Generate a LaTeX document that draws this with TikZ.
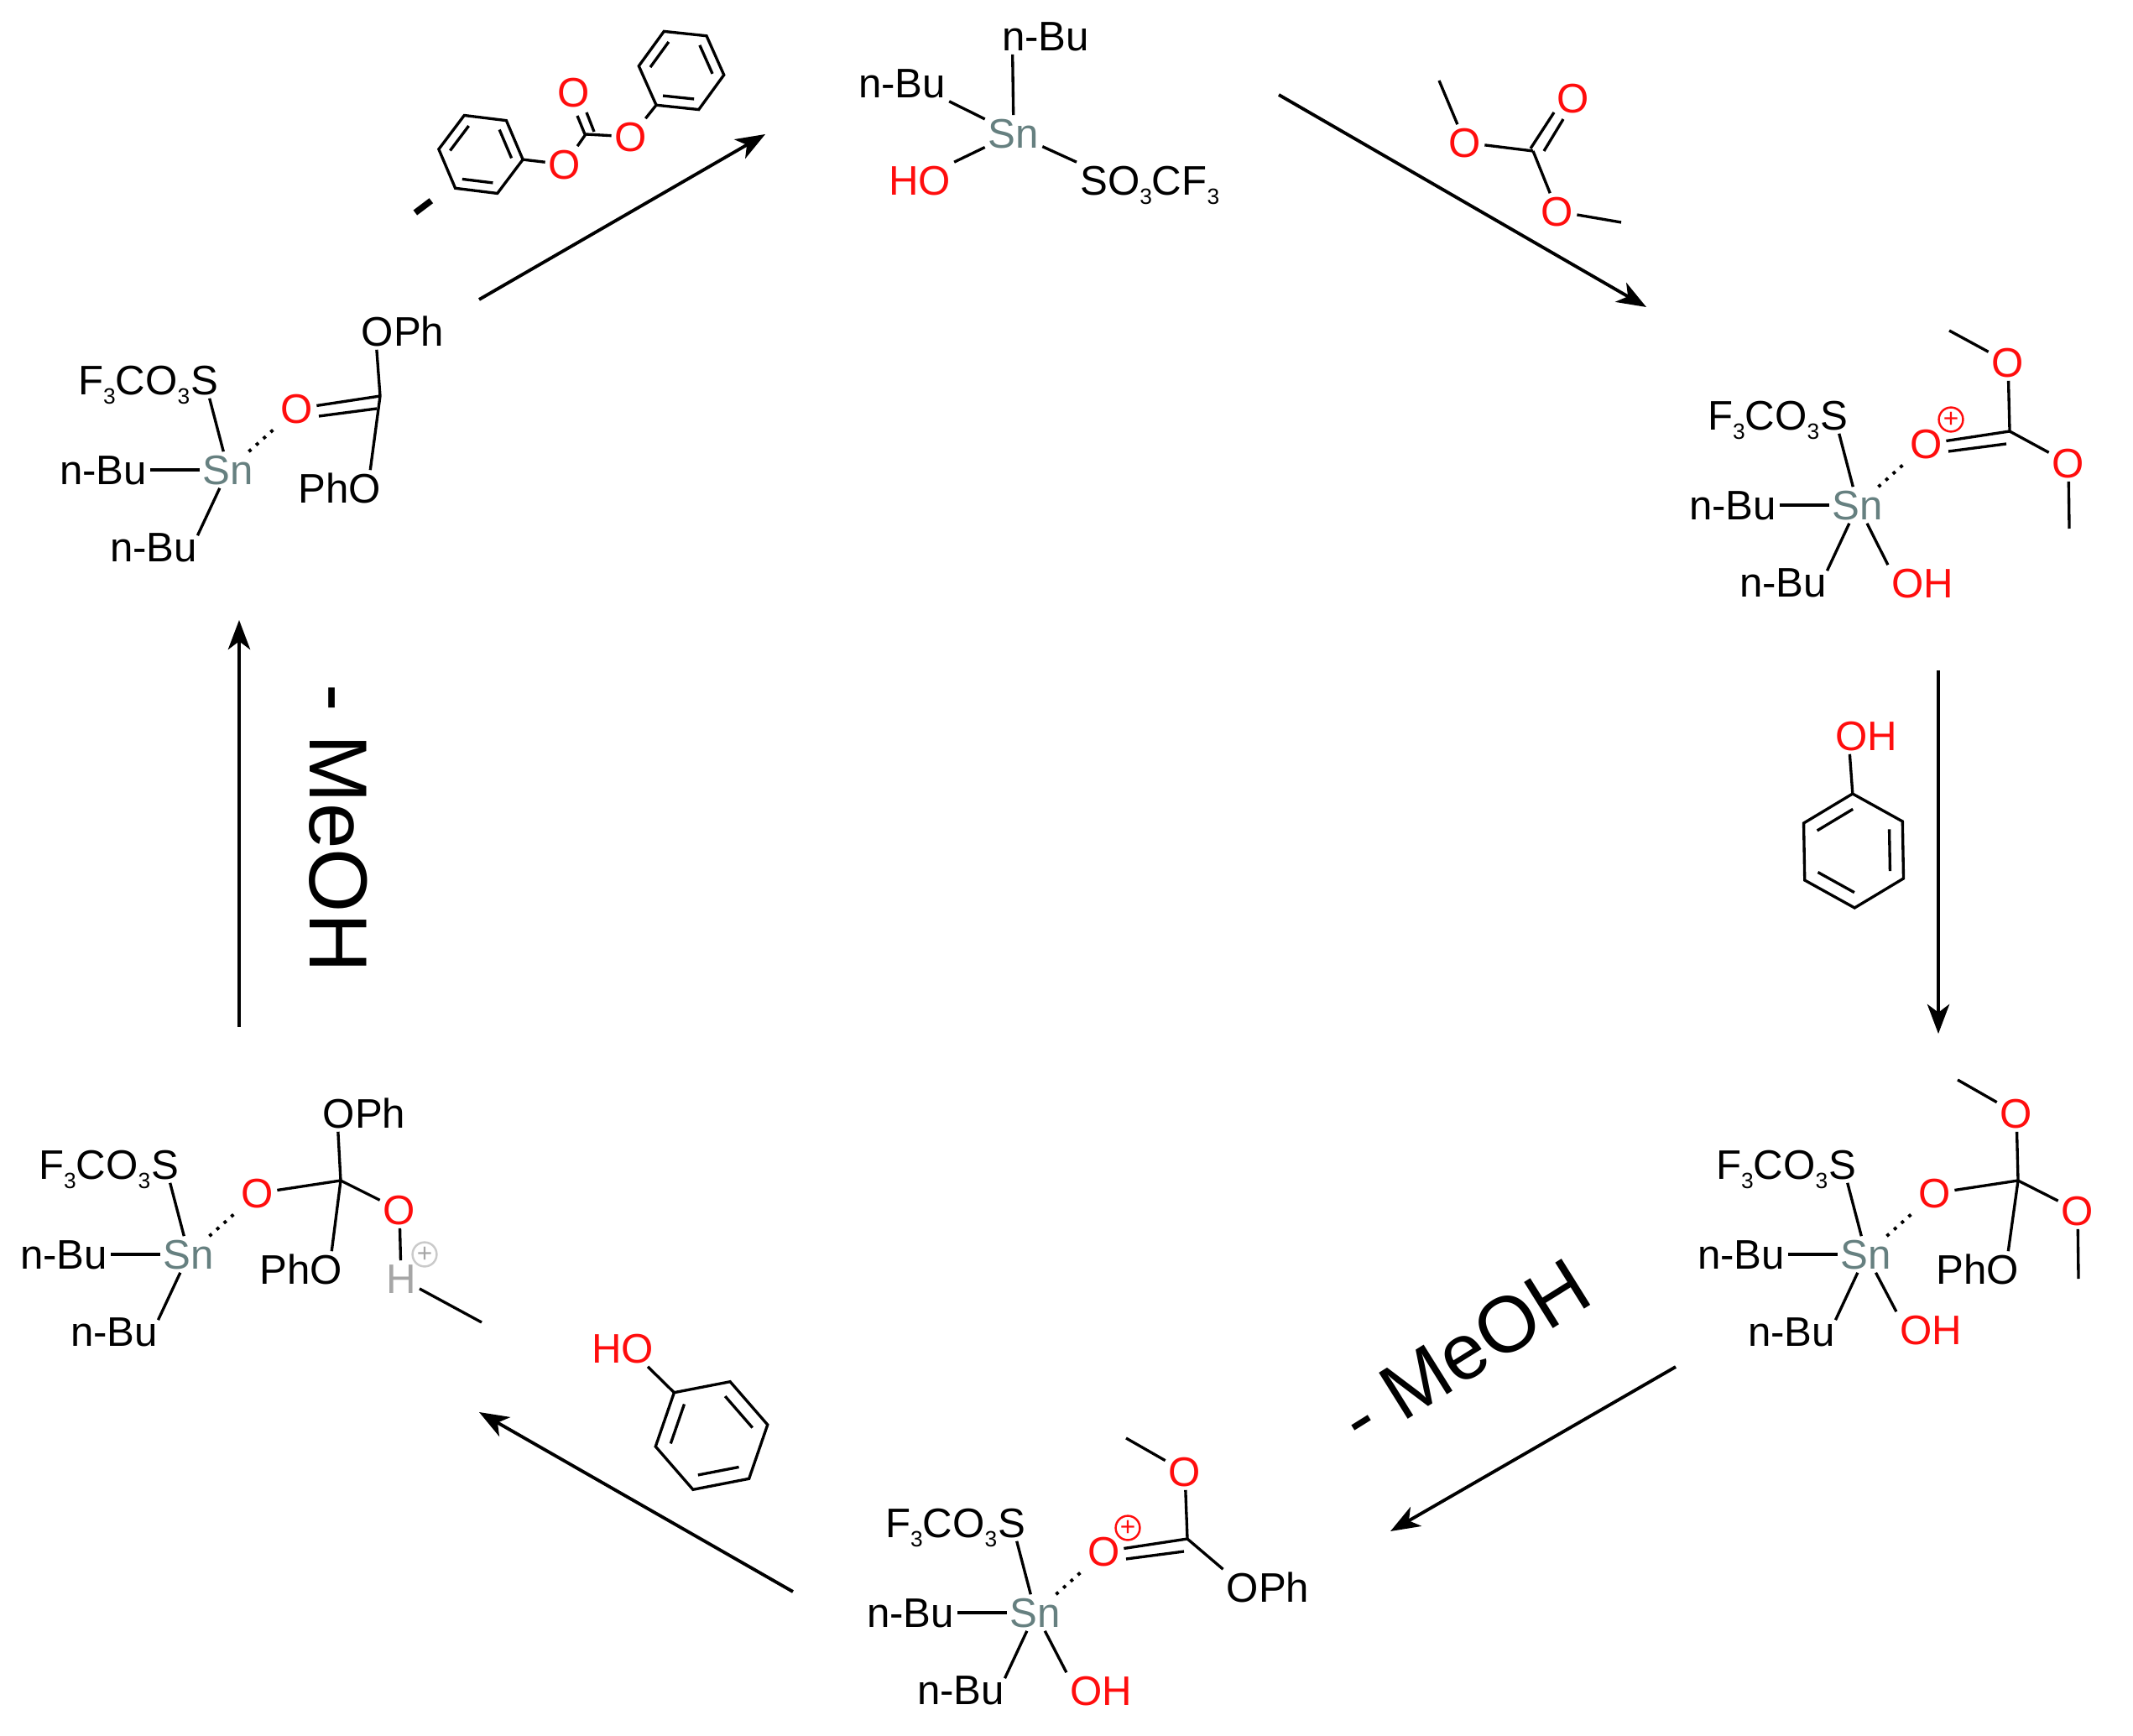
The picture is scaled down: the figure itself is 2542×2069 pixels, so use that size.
\documentclass[tikz,border=0pt]{standalone}
\usepackage{fontspec}
\setmainfont{Liberation Sans}
\usepackage{tikz}
\usetikzlibrary{arrows.meta,positioning}

\definecolor{oxyred}{HTML}{FF0D0D}
\definecolor{tingray}{HTML}{668080}
\definecolor{hgray}{HTML}{A6A6A6}

\newcommand{\atomfont}{\fontsize{14}{16}\selectfont}
\newcommand{\lossfont}{\fontsize{27.9}{30}\selectfont}
\newcommand{\sbthree}{\raisebox{-3.2pt}{\fontsize{7.5}{8}\selectfont 3}}

% tin centre with triflate, two butyls and the weak bond
\newcommand{\snarms}{%
  \node[tin] (sn) at (0,0) {Sn};
  \node[atom] (s) at (-28,-107) {S};
  \node[atom,left=-2pt of s] (tf) {F\sbthree CO\sbthree};
  \node[atom] (nbm) at (-149,0) {n-Bu};
  \node[atom] (nbl) at (-89,92) {n-Bu};
  \node[oxy] (os) at (82,-73) {O};
  \coordinate (c) at (181,-88);
  \path[bond] (sn) edge (s) edge (nbm) edge[shorten >=-2.5pt] (nbl.north east);
  \draw[weak] (sn) -- (os);
}
\newcommand{\carbonyl}{%
  \path[bond] (c) edge (os);
  \draw[bond] ([shift={(26,9)}]os.center) -- ([shift={(-4,15)}]c);
}
% name, centre, radius, first angle
\newcommand{\benzring}[4]{%
  \begin{scope}[shift={#2},y=0.1mm]
    \coordinate (#1a) at (#4:#3);
    \coordinate (#1b) at ({#4+60}:#3);
    \coordinate (#1c) at ({#4+120}:#3);
    \coordinate (#1d) at ({#4+180}:#3);
    \coordinate (#1e) at ({#4+240}:#3);
    \coordinate (#1f) at ({#4+300}:#3);
    \draw[bond] (#1a) -- (#1b) -- (#1c) -- (#1d) -- (#1e) -- (#1f) -- cycle;
    \draw[bond] (#4:{.73*#3}) -- ({#4+60}:{.73*#3});
    \draw[bond] ({#4+120}:{.73*#3}) -- ({#4+180}:{.73*#3});
    \draw[bond] ({#4+240}:{.73*#3}) -- ({#4+300}:{.73*#3});
  \end{scope}
}

\begin{document}
\begin{tikzpicture}[x=0.1mm,y=-0.1mm]
  \tikzstyle{atom}=[inner sep=1pt,text height=10pt,text depth=0pt,font=\atomfont]
  \tikzstyle{oxy}=[atom,text=oxyred]
  \tikzstyle{tin}=[atom,text=tingray]
  \tikzstyle{bond}=[line width=.95pt]
  \tikzstyle{weak}=[line width=1.1pt,dash pattern=on 1.1pt off 2.2pt]
  \tikzstyle{charge}=[circle,draw=oxyred,text=oxyred,line width=.7pt,inner sep=0pt,minimum size=8.2pt,font=\fontsize{9}{9}\selectfont]
  \tikzstyle{rxn}=[line width=1.1pt,-{Stealth[length=10pt,width=7.5pt,inset=2.8pt]}]
  \tikzstyle{loss}=[inner sep=0pt,anchor=base west,font=\lossfont]

  \useasboundingbox (0,0) rectangle (2542,2069);

  % top
  \begin{scope}[shift={(1208,159)},name prefix=ra-]
    \node[tin] (sn) at (0,0) {Sn};
    \node[atom] (nbt) at (38,-116) {n-Bu};
    \node[atom] (nbs) at (-133,-60) {n-Bu};
    \node[oxy] (ho) at (-112,56) {HO};
    \node[atom,anchor=west] (so) at (75,56) {SO\sbthree CF\sbthree};
    \path[bond] (sn) edge (nbt.209) edge (nbs.south east) edge (ho.north east) edge (so.north west);
  \end{scope}

  % right, upper
  \begin{scope}[shift={(2214,602)},name prefix=rb-]
    \snarms
    \carbonyl
    \node[oxy] (oh) at (77,93) {OH};
    \node[charge] (q) at (111,-102) {+};
    \node[oxy] (ot) at (179,-170) {O};
    \node[oxy] (or) at (251,-50) {O};
    \coordinate (mt) at (109,-208);
    \coordinate (mr) at (252,28);
    \path[bond] (sn) edge (oh.north west)
      (c) edge (ot) edge (or)
      (ot) edge (mt)
      (or) edge (mr);
  \end{scope}

  % right, lower
  \begin{scope}[shift={(2224,1495)},name prefix=rc-]
    \snarms
    \node[oxy] (oh) at (77,90) {OH};
    \node[oxy] (ot) at (179,-168) {O};
    \node[oxy] (or) at (252,-52) {O};
    \node[atom] (pho) at (133,18) {PhO};
    \coordinate (mt) at (109,-208);
    \coordinate (mr) at (253,29);
    \path[bond] (sn) edge (oh.north west)
      (c) edge (os) edge (ot) edge (or) edge (pho.31)
      (ot) edge (mt)
      (or) edge (mr);
  \end{scope}

  % bottom
  \begin{scope}[shift={(1234,1922)},name prefix=rd-]
    \snarms
    \carbonyl
    \node[oxy] (oh) at (78,93) {OH};
    \node[charge] (q) at (110,-101) {+};
    \node[oxy] (ot) at (178,-168) {O};
    \node[atom] (oph) at (277,-30) {OPh};
    \coordinate (mt) at (108,-208);
    \path[bond] (sn) edge (oh.north west)
      (c) edge (ot) edge (oph.north west)
      (ot) edge (mt);
  \end{scope}

  % left, lower
  \begin{scope}[shift={(225,1495)},name prefix=re-]
    \snarms
    \node[atom] (oph) at (209,-168) {OPh};
    \node[atom] (pho) at (134,18) {PhO};
    \node[oxy] (or) at (251,-53) {O};
    \node[atom,text=hgray] (h) at (253,29) {H};
    \node[charge,draw=hgray!60,text=hgray] (q) at (281,0) {+};
    \coordinate (mh) at (349,81);
    \path[bond] (c) edge (os) edge (oph.215) edge (pho.31) edge (or)
      (or) edge (h)
      (h) edge (mh);
  \end{scope}

  % left, upper
  \begin{scope}[shift={(272,560)},name prefix=rf-]
    \snarms
    \carbonyl
    \node[atom] (oph) at (208,-165) {OPh};
    \node[atom] (pho) at (133,22) {PhO};
    \path[bond] (c) edge (oph.215) edge (pho.31);
  \end{scope}

  % dimethyl carbonate
  \node[oxy] (dmoa) at (1746,170) {O};
  \node[oxy] (dmob) at (1875,117) {O};
  \node[oxy] (dmoc) at (1856,252) {O};
  \coordinate (dmc) at (1827,180);
  \coordinate (dmma) at (1715,96);
  \coordinate (dmmb) at (1932,265);
  \path[bond] (dmc) edge (dmoa) edge (dmoc)
    (dmoa) edge (dmma)
    (dmoc) edge (dmmb);
  \draw[bond] ([shift={(-3,-3)}]dmc) -- ([shift={(-23,17)}]dmob.center);
  \draw[bond] ([shift={(13,0)}]dmc) -- ([shift={(-12,25)}]dmob.center);

  % phenol, right
  \benzring{pa}{(2209,1014)}{68}{91}
  \node[oxy] (pao) at (2224,877) {OH};
  \draw[bond] (paa) -- (pao.228);

  % phenol, left
  \benzring{pb}{(848,1711)}{68}{11}
  \node[oxy] (pbo) at (742,1607) {HO};
  \draw[bond] (pbc) -- (pbo.-36);

  % diphenyl carbonate
  \benzring{dpa}{(573,184)}{50.5}{113}
  \benzring{dpb}{(812,84)}{51}{114}
  \node[oxy] (dpl) at (673,196) {O};
  \node[oxy] (dpr) at (752,163) {O};
  \node[oxy] (dpt) at (684,110) {O};
  \coordinate (dpc) at (698,160);
  \path[bond] (dpc) edge (dpl) edge (dpr)
    (dpl) edge (dpae)
    (dpr) edge (dpbc);
  \draw[bond] ([shift={(-1,0)}]dpc) -- ([shift={(4,28)}]dpt.center);
  \draw[bond] ([shift={(10,-3)}]dpc) -- ([shift={(15,24)}]dpt.center);

  % losses
  \node[inner sep=0pt,rotate=37,font=\lossfont] (lossa) at (512,256) {-};
  \node[loss,rotate=32,font=\fontsize{26.8}{30}\selectfont] (lossb) at (1622,1726) {- MeOH};
  \node[loss,rotate=-90] (lossc) at (369,815) {- MeOH};

  % cycle arrows
  \coordinate (a1) at (571,357);
  \coordinate (a2) at (912,160);
  \coordinate (b1) at (1524,113);
  \coordinate (b2) at (1962,366);
  \coordinate (c1) at (2310,799);
  \coordinate (c2) at (2310,1232);
  \coordinate (d1) at (1997,1629);
  \coordinate (d2) at (1657,1825);
  \coordinate (e1) at (945,1897);
  \coordinate (e2) at (571,1683);
  \coordinate (f1) at (285,1224);
  \coordinate (f2) at (285,739);
  \path[rxn] (a1) edge (a2)
    (b1) edge (b2)
    (c1) edge (c2)
    (d1) edge (d2)
    (e1) edge (e2)
    (f1) edge (f2);
\end{tikzpicture}
\end{document}
